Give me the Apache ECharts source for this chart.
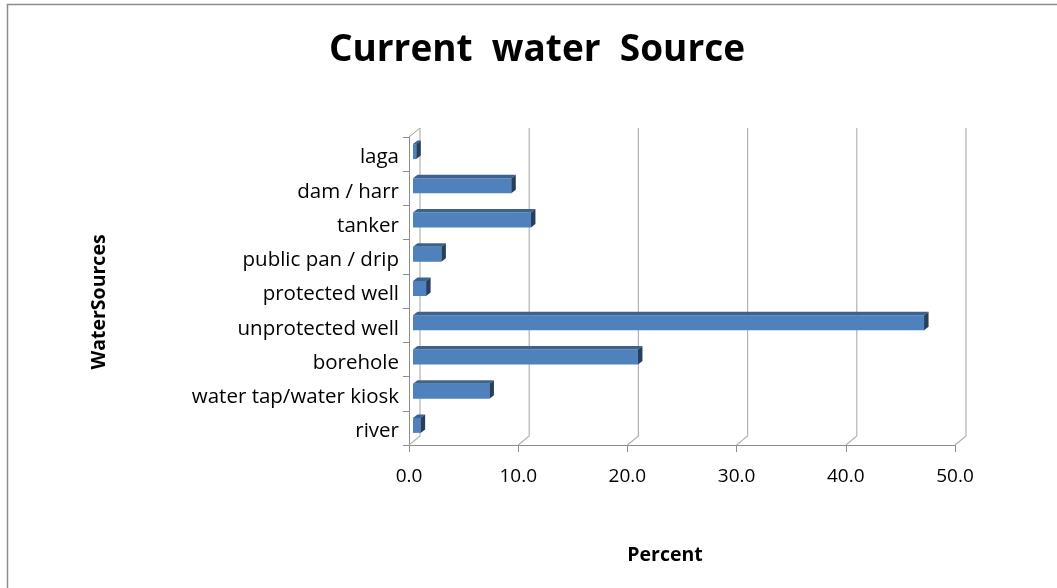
<!DOCTYPE html>
<html>
<head>
<meta charset="utf-8">
<script src="https://cdn.jsdelivr.net/npm/echarts@6/dist/echarts.min.js"></script>
<style>
  html, body { margin: 0; padding: 0; background: #ffffff; }
  #chart { width: 1057px; height: 588px; }
</style>
</head>
<body>
<div id="chart"></div>
<script>
// Water sources, listed bottom to top
const categories = [
  'river',
  'water tap/water kiosk',
  'borehole',
  'unprotected well',
  'protected well',
  'public pan / drip',
  'tanker',
  'dam / harr',
  'laga'
];
// Share of households (%)
const percents = [0.7, 7.0, 20.6, 46.8, 1.2, 2.6, 10.8, 9.0, 0.3];
// Value-axis ticks
const ticks = [0, 10, 20, 30, 40, 50];

const FONT = 'Open Sans';
const DEPTH_X = 11, DEPTH_Y = 9;      // back-wall offset of the 3D box
const BAR_DX = 4.5, BAR_DY = 3.5;     // thickness of each bar's top/side faces
const BAR_SHIFT_X = 4, BAR_SHIFT_Y = -2.5, BAR_H = 15;

const chart = echarts.init(document.getElementById('chart'));

// Back-wall gridlines with their floor diagonals, plus the left wall's top edge
function renderWalls(params, api) {
  const cs = params.coordSys;
  const v = api.value(0);
  const x = api.coord([v, 0])[0];
  const bottom = cs.y + cs.height;
  const children = [{
    type: 'polyline',
    shape: { points: [[x, bottom], [x + DEPTH_X, bottom - DEPTH_Y], [x + DEPTH_X, cs.y - DEPTH_Y]] },
    style: { stroke: '#b3b3b3', lineWidth: 1.2, fill: null }
  }];
  if (v === 0) {
    children.push({
      type: 'line',
      shape: { x1: cs.x, y1: cs.y, x2: cs.x + DEPTH_X, y2: cs.y - DEPTH_Y },
      style: { stroke: '#9a9a9a', lineWidth: 1 }
    });
  }
  return { type: 'group', children };
}

// Box-shaped bar: front face, top face and right end face
function renderBar(params, api) {
  const idx = api.value(0);
  const val = api.value(1);
  const p0 = api.coord([0, idx]);
  const p1 = api.coord([val, idx]);
  const x0 = p0[0] + BAR_SHIFT_X;
  const x1 = p1[0] + BAR_SHIFT_X;
  const cy = p0[1] + BAR_SHIFT_Y;
  const yt = cy - BAR_H / 2, yb = cy + BAR_H / 2;
  return {
    type: 'group',
    children: [
      { type: 'rect', shape: { x: x0, y: yt, width: x1 - x0, height: BAR_H },
        style: { fill: '#4f81bd' } },
      { type: 'polygon',
        shape: { points: [[x0, yt], [x1, yt], [x1 + BAR_DX, yt - BAR_DY], [x0 + BAR_DX, yt - BAR_DY]] },
        style: { fill: '#3c6290' } },
      { type: 'polygon',
        shape: { points: [[x1, yt], [x1 + BAR_DX, yt - BAR_DY], [x1 + BAR_DX, yb - BAR_DY], [x1, yb]] },
        style: { fill: '#263f5f' } }
    ]
  };
}

chart.setOption({
  backgroundColor: '#ffffff',
  animation: false,
  graphic: [
    { type: 'rect', shape: { x: 7.5, y: 4.5, width: 1100, height: 700 },
      style: { fill: null, stroke: '#8c8c8c', lineWidth: 1.5 }, silent: true },
    { type: 'text', x: 537, y: 50,
      style: { text: 'Current  water  Source', fontFamily: FONT, fontWeight: 'bold', fontSize: 37,
               fill: '#000', align: 'center', verticalAlign: 'middle' } },
    { type: 'text', x: 99, y: 302, rotation: Math.PI / 2,
      style: { text: 'WaterSources', fontFamily: FONT, fontWeight: 'bold', fontSize: 19.5,
               fill: '#000', align: 'center', verticalAlign: 'middle' } },
    { type: 'text', x: 665, y: 555,
      style: { text: 'Percent', fontFamily: FONT, fontWeight: 'bold', fontSize: 19.5,
               fill: '#000', align: 'center', verticalAlign: 'middle' } }
  ],
  grid: { left: 409, top: 137, width: 546, height: 308 },
  xAxis: {
    type: 'value',
    min: 0, max: 50, interval: 10,
    axisLine: { show: true, lineStyle: { color: '#8c8c8c', width: 1 } },
    axisTick: { show: true, length: 7, lineStyle: { color: '#8c8c8c' } },
    axisLabel: {
      margin: 22, fontFamily: FONT, fontSize: 19, color: '#000',
      formatter: v => v.toFixed(1)
    },
    splitLine: { show: false }
  },
  yAxis: {
    type: 'category',
    data: categories,
    axisLine: { show: true, lineStyle: { color: '#8c8c8c', width: 1 } },
    axisTick: { show: true, length: 6, lineStyle: { color: '#8c8c8c' } },
    axisLabel: {
      margin: 10, fontFamily: FONT, fontSize: 20.5, color: '#000',
      verticalAlign: 'top', lineHeight: 7
    },
    splitLine: { show: false }
  },
  series: [
    {
      type: 'custom',
      z: 1,
      renderItem: renderWalls,
      data: ticks.map(t => [t, 0]),
      encode: { x: 0 }
    },
    {
      type: 'custom',
      z: 2,
      renderItem: renderBar,
      data: percents.map((v, i) => [i, v]),
      encode: { y: 0, x: 1 }
    }
  ]
});
</script>
</body>
</html>
